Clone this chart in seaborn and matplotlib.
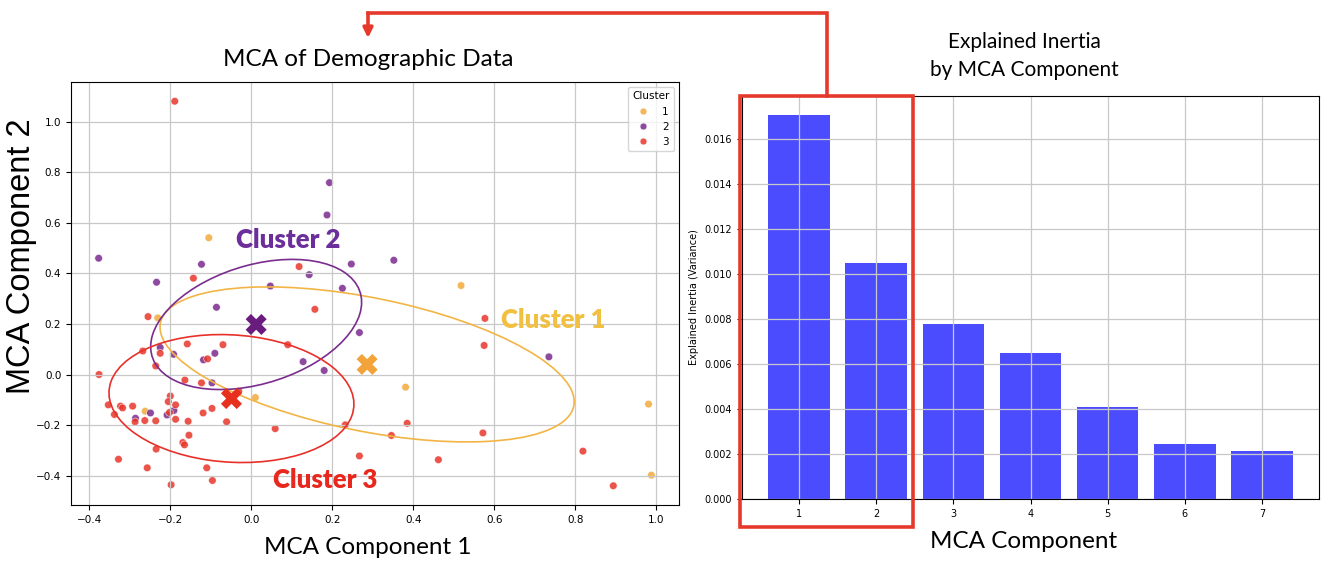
import numpy as np
import pandas as pd
import matplotlib
matplotlib.use("Agg")
import matplotlib.pyplot as plt
import seaborn as sns
from matplotlib.patches import Ellipse, Rectangle, FancyArrowPatch
from matplotlib.lines import Line2D

# ---------------- data ----------------
cluster1_x = [-0.105, 0.518, -0.231, 0.010, -0.262, 0.381, 0.981, 0.988]
cluster1_y = [0.541, 0.352, 0.224, -0.091, -0.145, -0.050, -0.117, -0.398]

cluster2_x = [0.193, 0.187, -0.377, -0.123, 0.247, 0.143, -0.234, 0.047, 0.225, 0.352,
              -0.086, 0.267, -0.225, -0.192, -0.090, -0.118, 0.128, 0.180, -0.097,
              -0.249, -0.286, -0.208, -0.191, 0.735]
cluster2_y = [0.759, 0.631, 0.460, 0.436, 0.437, 0.395, 0.365, 0.350, 0.341, 0.452,
              0.266, 0.166, 0.107, 0.080, 0.084, 0.058, 0.051, 0.016, -0.033,
              -0.152, -0.173, -0.160, -0.142, 0.070]

cluster3_x = [-0.189, 0.118, -0.143, -0.255, 0.157, -0.376, -0.268, -0.225, -0.158, -0.070,
              -0.108, 0.090, -0.236, -0.164, -0.123, -0.031, -0.200, -0.205, -0.187, -0.353,
              -0.323, -0.318, -0.293, -0.338, -0.287, -0.263, -0.236, -0.202, -0.187, -0.156,
              -0.119, -0.097, -0.061, 0.059, 0.232, -0.154, -0.169, -0.165, -0.235, -0.328,
              -0.257, -0.110, 0.267, -0.096, -0.198, 0.577, 0.575, 0.385, 0.346, 0.572,
              0.819, 0.462, 0.894]
cluster3_y = [1.081, 0.427, 0.381, 0.229, 0.258, 0.000, 0.093, 0.084, 0.121, 0.118,
              0.062, 0.118, 0.034, -0.022, -0.033, -0.066, -0.085, -0.107, -0.120, -0.120,
              -0.125, -0.132, -0.125, -0.158, -0.187, -0.182, -0.183, -0.150, -0.177, -0.185,
              -0.152, -0.134, -0.187, -0.214, -0.199, -0.240, -0.269, -0.278, -0.295, -0.335,
              -0.369, -0.369, -0.322, -0.419, -0.436, 0.222, 0.115, -0.193, -0.241, -0.231,
              -0.303, -0.337, -0.440]

cluster_labels = ["1", "2", "3"]
centroid_x = [0.286, 0.012, -0.049]
centroid_y = [0.040, 0.198, -0.095]

# ellipse shape (width, height in data units, angle in degrees)
ellipse_w = [1.078, 0.600, 0.610]
ellipse_h = [0.510, 0.420, 0.500]
ellipse_angle = [-21.0, 44.0, -13.0]

components = ["1", "2", "3", "4", "5", "6", "7"]
inertia = [0.01706, 0.01049, 0.00780, 0.00647, 0.00410, 0.00245, 0.00214]

# ---------------- styling ----------------
point_colors = {"1": "#F2A93B", "2": "#7A2A8E", "3": "#E8362B"}
centroid_colors = ["#F2A33A", "#6A1B7E", "#E8301E"]
ellipse_colors = ["#F2B545", "#7B2D8E", "#E8302A"]
label_colors = ["#F2C040", "#6B2E9A", "#E8281E"]
label_pos = [(0.746, 0.214), (0.091, 0.531), (0.183, -0.417)]
LABEL_FONT = ["Lato", "DejaVu Sans"]

df = pd.DataFrame({
    "x": cluster1_x + cluster2_x + cluster3_x,
    "y": cluster1_y + cluster2_y + cluster3_y,
    "Cluster": ["1"] * len(cluster1_x) + ["2"] * len(cluster2_x) + ["3"] * len(cluster3_x),
})
cent = pd.DataFrame({"x": centroid_x, "y": centroid_y, "Cluster": cluster_labels})

W, H = 1324, 563
fig = plt.figure(figsize=(W / 100, H / 100), dpi=100)

def fpos(l, t, r, b):
    return [l / W, 1 - b / H, (r - l) / W, (b - t) / H]

ax1 = fig.add_axes(fpos(71, 82, 679, 505))
ax2 = fig.add_axes(fpos(742, 96, 1319, 499))

# ---------------- left: MCA scatter ----------------
sns.scatterplot(data=df, x="x", y="y", hue="Cluster", hue_order=cluster_labels,
                palette=point_colors, s=30, alpha=0.85, edgecolor="white",
                linewidth=0.4, ax=ax1)
sns.scatterplot(data=cent, x="x", y="y", hue="Cluster", hue_order=cluster_labels,
                palette=dict(zip(cluster_labels, centroid_colors)), marker="X",
                s=230, edgecolor="none", legend=False, ax=ax1, zorder=4)
xl, yl = ax1.get_xlim(), ax1.get_ylim()

for i in range(3):
    e = Ellipse((centroid_x[i], centroid_y[i]), ellipse_w[i], ellipse_h[i],
                angle=ellipse_angle[i], fill=False, edgecolor=ellipse_colors[i],
                linewidth=1.2, zorder=3)
    ax1.add_patch(e)
    ax1.text(label_pos[i][0], label_pos[i][1], f"Cluster {cluster_labels[i]}",
             color=label_colors[i], fontsize=18.5, fontweight="heavy",
             family=LABEL_FONT, ha="center", va="center", zorder=5)

ax1.set_xlim(xl)
ax1.set_ylim(yl)
ax1.grid(True, color="#c8c8c8", linewidth=0.9)
ax1.tick_params(labelsize=7.5)
ax1.set_xlabel("")
ax1.set_ylabel("")
sns.move_legend(ax1, "upper right", title="Cluster", fontsize=7.5,
                title_fontsize=7.5, markerscale=0.9, frameon=True)

# ---------------- right: explained inertia ----------------
sns.barplot(x=components, y=inertia, order=components, color="blue", alpha=0.7,
            saturation=1, width=0.8, ax=ax2)
ax2.set_xlim(-0.74, 6.74)
ax2.grid(True, color="#c8c8c8", linewidth=0.9)
ax2.set_axisbelow("line")
ax2.tick_params(labelsize=7)
ax2.set_xlabel("")
ax2.set_ylabel("Explained Inertia (Variance)", fontsize=7)

# ---------------- titles and labels ----------------
fig.text(368 / W, 1 - 59 / H, "MCA of Demographic Data", fontsize=17.5,
         family=LABEL_FONT, ha="center", va="center")
fig.text(368 / W, 1 - 548 / H, "MCA Component 1", fontsize=17.5,
         family=LABEL_FONT, ha="center", va="center")
fig.text(22 / W, 1 - 256 / H, "MCA Component 2", fontsize=23.5,
         family=["Liberation Sans", "DejaVu Sans"], rotation=90,
         ha="center", va="center")
fig.text(1024 / W, 1 - 56 / H, "Explained Inertia\nby MCA Component", fontsize=15,
         family=LABEL_FONT, ha="center", va="center", linespacing=1.5)
fig.text(1024 / W, 1 - 541 / H, "MCA Component", fontsize=17.5,
         family=LABEL_FONT, ha="center", va="center")

# ---------------- red highlight box and connector arrow ----------------
red = "#E53A2B"
fig.add_artist(Rectangle((740 / W, 1 - 527 / H), 173 / W, 431 / H, fill=False,
                         edgecolor=red, linewidth=2.6, transform=fig.transFigure,
                         zorder=10))
fig.add_artist(Line2D([827 / W, 827 / W, 368 / W], [1 - 96 / H, 1 - 13 / H, 1 - 13 / H],
                      color=red, linewidth=2.6, transform=fig.transFigure,
                      solid_joinstyle="miter", zorder=10))
fig.add_artist(FancyArrowPatch((368 / W, 1 - 13 / H), (368 / W, 1 - 38 / H),
                               transform=fig.transFigure, arrowstyle="-|>",
                               mutation_scale=14, color=red, linewidth=2.6,
                               shrinkA=0, shrinkB=0, zorder=10))

fig.savefig("out.png", dpi=100)
